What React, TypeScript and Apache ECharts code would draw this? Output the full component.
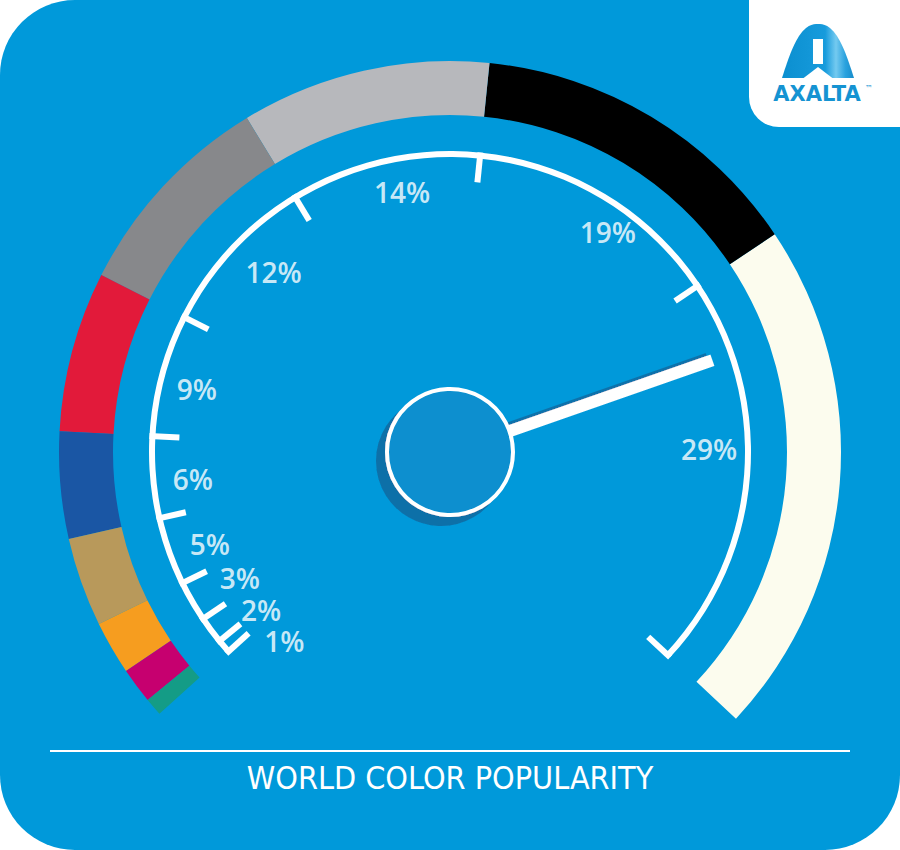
import React, { useEffect, useRef } from 'react';
import * as echarts from 'echarts';

// ---- data ----
const colorNames = ['Green', 'Other', 'Yellow/Gold', 'Beige/Brown', 'Blue', 'Red', 'Gray', 'Silver', 'Black', 'White'];
const shares = [1, 2, 3, 5, 6, 9, 12, 14, 19, 29];
const tickLabels = ['1%', '2%', '3%', '5%', '6%', '9%', '12%', '14%', '19%', '29%'];
const pointerValue = 76.5;
const titleText = 'WORLD COLOR POPULARITY';

// ---- style ----
const segmentColors = ['#149c86', '#c6006f', '#f69d1f', '#b8995b', '#1a56a4', '#e21a3a', '#87888b', '#b7b8bc', '#000000', '#fcfcee'];
const labelOffsets: number[][] = [[30, 21], [18, 4], [13, -3], [3, 6], [0, 5], [-4, 4], [13, -5], [9, -8], [25, 1], [2, -24]];
const BG = '#0099da';
const CX = 450;
const CY = 452;
const START = 222;
const END = -43;
const ARC_R = 301;
const LABEL_R = 258;

const A_PATH = 'M0,54 C7,32 14,12 24,4 C28,1 31,0 34,0 L38,0 C41,0 44,1 48,4 C58,12 65,32 72,54 Z';

export default function App() {
  const ref = useRef<HTMLDivElement>(null);
  useEffect(() => {
    document.body.style.margin = '0';
    echarts.graphic.registerShape('axaltaA', echarts.graphic.extendPath(A_PATH, {}));
    const chart = echarts.init(ref.current as HTMLDivElement, null, { renderer: 'svg' });

    const cum: number[] = [];
    shares.reduce((acc, s) => { const v = acc + s; cum.push(v); return v; }, 0);
    const boundaries = [0, ...cum];
    const bandStops = shares.map((s, i) => [cum[i] / 100, segmentColors[i]]);
    const tickStops: any[] = [];
    boundaries.forEach((b, i) => {
      if (i > 0) tickStops.push([b / 100 - 0.001, 'rgba(0,0,0,0)']);
      tickStops.push([b / 100, '#ffffff']);
    });
    const mids = shares.map((s, i) => cum[i] - s / 2);
    const FULL = (100 * 360) / (START - END);

    const base: any = {
      type: 'gauge', center: [CX, CY], startAngle: START, endAngle: END, min: 0, max: 100,
      splitNumber: 10, axisTick: { show: false }, splitLine: { show: false }, axisLabel: { show: false },
      pointer: { show: false }, anchor: { show: false }, title: { show: false }, detail: { show: false },
      progress: { show: false }, data: [{ value: 0 }], silent: true,
    };

    const option: any = {
      animation: false,
      polar: { center: [CX, CY], radius: ARC_R },
      angleAxis: { type: 'value', min: 0, max: FULL, startAngle: START, clockwise: true, show: false },
      radiusAxis: { type: 'value', min: 0, max: ARC_R, show: false },
      graphic: [
        { type: 'rect', z: -10, shape: { x: 0, y: 0, width: 900, height: 850, r: 75 }, style: { fill: BG } },
        { type: 'rect', z: 1, shape: { x: 749, y: 0, width: 151, height: 127, r: [0, 0, 0, 30] }, style: { fill: '#ffffff' } },
        {
          type: 'axaltaA', z: 2, x: 782, y: 24,
          style: {
            fill: new echarts.graphic.LinearGradient(0, 0, 1, 0, [
              { offset: 0, color: '#0b8fd0' }, { offset: 0.6, color: '#179bdc' },
              { offset: 0.75, color: '#74caf0' }, { offset: 0.88, color: '#2aa2de' }, { offset: 1, color: '#168ccb' },
            ]),
          },
        },
        { type: 'rect', z: 3, shape: { x: 813, y: 39, width: 10, height: 25 }, style: { fill: '#ffffff' } },
        { type: 'polygon', z: 3, shape: { points: [[803, 78.5], [818, 67], [833, 78.5]] }, style: { fill: '#ffffff' } },
        {
          type: 'text', z: 3, x: 817, y: 94,
          style: { text: 'AXALTA', fill: '#1593d2', font: 'bold 21px "DejaVu Sans"', align: 'center', verticalAlign: 'middle' },
        },
        { type: 'text', z: 3, x: 865, y: 84, style: { text: '™', fill: '#1593d2', font: '8px "DejaVu Sans"' } },
        { type: 'line', z: 1, shape: { x1: 50, y1: 751, x2: 850, y2: 751 }, style: { stroke: '#ffffff', lineWidth: 2 } },
        {
          type: 'text', z: 1, x: 450, y: 778,
          style: { text: titleText, fill: '#ffffff', font: '32px "Liberation Sans Narrow", "DejaVu Sans Condensed", sans-serif', align: 'center', verticalAlign: 'middle' },
        },
      ],
      series: [
        { ...base, name: 'band', radius: 391, axisLine: { show: true, lineStyle: { width: 54, color: bandStops } } },
        { ...base, name: 'arc', radius: ARC_R, axisLine: { show: true, lineStyle: { width: 6, color: [[1, '#ffffff']] } } },
        {
          ...base, name: 'ticks', radius: ARC_R, splitNumber: 100,
          axisLine: { show: false, lineStyle: { width: 0, color: tickStops } },
          splitLine: { show: true, length: 30, distance: 0, lineStyle: { color: 'auto', width: 6 } },
        },
        {
          ...base, name: 'pointer', radius: ARC_R,
          axisLine: { show: false, lineStyle: { width: 0 } },
          pointer: {
            show: true, icon: 'rect', length: 278, width: 12, offsetCenter: [0, 0],
            itemStyle: { color: '#ffffff', shadowColor: '#0a72ab', shadowOffsetX: -3, shadowOffsetY: 4, shadowBlur: 0 },
          },
          anchor: {
            show: true, showAbove: true, size: 126,
            itemStyle: { color: '#088fcf', borderColor: '#ffffff', borderWidth: 4, shadowColor: '#0a6fa8', shadowOffsetX: -9, shadowOffsetY: 9, shadowBlur: 0 },
          },
          data: [{ value: pointerValue, name: 'pointer' }],
        },
        {
          type: 'scatter', name: 'labels', coordinateSystem: 'polar', symbolSize: 1, silent: true,
          itemStyle: { color: 'rgba(0,0,0,0)' },
          label: { show: true, position: 'inside', formatter: '{b}', color: '#ffffff', fontSize: 28, lineHeight: 22, fontWeight: 600, fontFamily: '"Open Sans", "Noto Sans"' },
          data: mids.map((m, i) => ({ value: [LABEL_R, m], name: tickLabels[i], colorName: colorNames[i], label: { offset: labelOffsets[i] } })),
        },
      ],
    };
    chart.setOption(option);
    return () => chart.dispose();
  }, []);
  return <div ref={ref} style={{ width: 900, height: 850 }} />;
}
